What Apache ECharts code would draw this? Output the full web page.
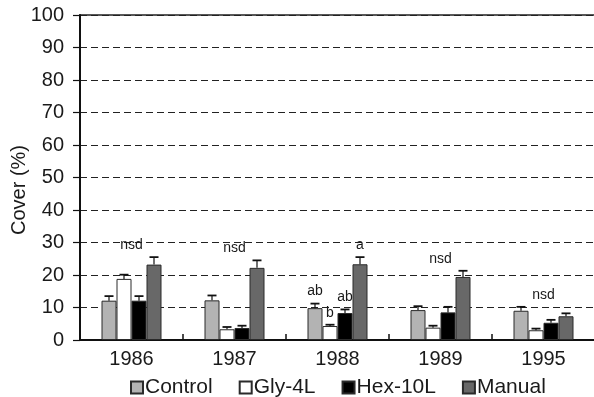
<!DOCTYPE html>
<html>
<head>
<meta charset="utf-8">
<script src="https://cdn.jsdelivr.net/npm/echarts@6/dist/echarts.min.js"></script>
<style>
  html, body { margin: 0; padding: 0; background: #fff; }
  #chart { width: 594px; height: 397px; }
</style>
</head>
<body>
<div id="chart"></div>
<script>
// Survey years
const years = ['1986', '1987', '1988', '1989', '1995'];

// Mean cover (%) per treatment, and standard error (upper bar only)
const control    = [12.1, 12.2, 9.8, 9.2, 9.0];
const controlErr = [1.4, 1.5, 1.4, 1.2, 1.2];
const gly        = [18.8, 3.3, 4.3, 3.8, 3.0];
const glyErr     = [1.3, 0.7, 0.4, 0.6, 0.5];
const hex        = [12.1, 3.7, 8.3, 8.5, 5.3];
const hexErr     = [1.4, 0.7, 1.1, 1.7, 0.9];
const manual     = [23.2, 22.2, 23.3, 19.4, 7.3];
const manualErr  = [2.3, 2.3, 2.2, 1.9, 0.9];

// Significance letters: per-year summary and per-bar letters
const yearLetters    = ['nsd', 'nsd', '', 'nsd', 'nsd'];
const controlLetters = ['', '', 'ab', '', ''];
const glyLetters     = ['', '', 'b', '', ''];
const hexLetters     = ['', '', 'ab', '', ''];
const manualLetters  = ['', '', 'a', '', ''];

// Y-axis ticks
const yMin = 0, yMax = 100, yStep = 10;

const FONT = '"Liberation Sans", Arial, sans-serif';
const TEXT = '#1a1a1a';
const BAR_W = 15;
const LABEL_LIFT = 12;

const treatments = [
  { name: 'Control', mean: control, err: controlErr, letters: controlLetters, color: '#b3b3b3' },
  { name: 'Gly-4L',  mean: gly,     err: glyErr,     letters: glyLetters,     color: '#ffffff' },
  { name: 'Hex-10L', mean: hex,     err: hexErr,     letters: hexLetters,     color: '#000000' },
  { name: 'Manual',  mean: manual,  err: manualErr,  letters: manualLetters,  color: '#686868' }
];

const barSeries = treatments.map(t => ({
  name: t.name,
  type: 'bar',
  data: t.mean,
  barWidth: BAR_W,
  barGap: '0%',
  itemStyle: { color: t.color, borderColor: '#2a2a2a', borderWidth: 1 },
  emphasis: { disabled: true },
  z: 2
}));

// Upper error bars with caps, plus per-bar significance letters
const errSeries = treatments.map((t, k) => ({
  type: 'custom',
  silent: true,
  z: 3,
  data: years.map((y, i) => [i, t.mean[i], t.mean[i] + t.err[i], t.letters[i]]),
  renderItem: function (params, api) {
    const base = api.coord([api.value(0), api.value(1)]);
    const top = api.coord([api.value(0), api.value(2)]);
    const x = base[0] + (k - 1.5) * BAR_W;
    const cap = 4.5;
    const children = [
      { type: 'line', shape: { x1: x, y1: base[1], x2: x, y2: top[1] },
        style: { stroke: '#111', lineWidth: 1.2 } },
      { type: 'line', shape: { x1: x - cap, y1: top[1], x2: x + cap, y2: top[1] },
        style: { stroke: '#111', lineWidth: 1.8 } }
    ];
    const letter = t.letters[params.dataIndex];
    if (letter) {
      children.push({ type: 'text', x: x, y: top[1] - LABEL_LIFT,
        style: { text: letter, fill: TEXT, font: '14px ' + FONT, align: 'center', verticalAlign: 'middle' } });
    }
    return { type: 'group', children: children };
  }
}));

// Year-level letters centred above the tallest error bar of each year
const yearTops = years.map((y, i) => Math.max(...treatments.map(t => t.mean[i] + t.err[i])));
const yearLetterSeries = {
  type: 'custom',
  silent: true,
  z: 4,
  data: years.map((y, i) => [i, yearTops[i]]),
  renderItem: function (params, api) {
    const text = yearLetters[params.dataIndex];
    if (!text) return null;
    const p = api.coord([api.value(0), api.value(1)]);
    return { type: 'text', x: p[0], y: p[1] - LABEL_LIFT,
      style: { text: text, fill: TEXT, font: '14px ' + FONT, align: 'center', verticalAlign: 'middle' } };
  }
};

const chart = echarts.init(document.getElementById('chart'), null, { renderer: 'canvas' });
chart.setOption({
  animation: false,
  backgroundColor: '#ffffff',
  textStyle: { fontFamily: FONT },
  grid: {
    left: 80, top: 15, width: 515, height: 325,
    outerBoundsMode: 'none',
    containLabel: false,
    show: true, borderColor: '#222', borderWidth: 1.5, backgroundColor: 'transparent'
  },
  legend: {
    data: treatments.map(t => t.name),
    left: 125, top: 372,
    icon: 'rect',
    itemWidth: 12, itemHeight: 12,
    itemGap: 26,
    textStyle: { fontFamily: FONT, fontSize: 21, color: TEXT, padding: [0, 0, 0, -3] },
    selectedMode: false
  },
  xAxis: {
    type: 'category',
    data: years,
    axisLine: { lineStyle: { color: '#111', width: 2 } },
    axisTick: { show: true, inside: true, length: 6, lineStyle: { color: '#111', width: 1.5 } },
    axisLabel: { color: TEXT, fontSize: 20, fontFamily: FONT, margin: 9 },
    splitLine: { show: false }
  },
  yAxis: {
    type: 'value',
    min: yMin, max: yMax, interval: yStep,
    name: 'Cover (%)',
    nameLocation: 'middle',
    nameGap: 51,
    nameMoveOverlap: false,
    nameTextStyle: { color: TEXT, fontSize: 20, fontFamily: FONT, padding: [0, 25, 0, 0] },
    axisLine: { show: true, lineStyle: { color: '#111', width: 2 } },
    axisTick: { show: true, length: 7, lineStyle: { color: '#111', width: 1.2 } },
    axisLabel: { color: TEXT, fontSize: 20, fontFamily: FONT, margin: 16 },
    splitLine: { show: true, lineStyle: { color: '#222', width: 1.2, type: [7, 4] } }
  },
  series: [...barSeries, ...errSeries, yearLetterSeries]
});
</script>
</body>
</html>
